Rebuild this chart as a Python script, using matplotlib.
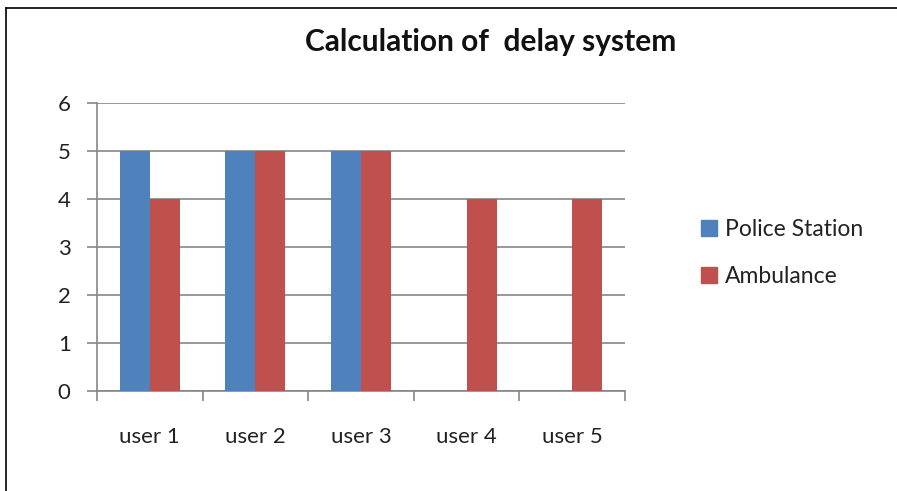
import matplotlib
matplotlib.use("Agg")
import matplotlib.pyplot as plt
from matplotlib.lines import Line2D
from matplotlib.patches import Patch
import numpy as np

categories = ["user 1", "user 2", "user 3", "user 4", "user 5"]
police = [5, 5, 5, 0, 0]
ambulance = [4, 5, 5, 4, 4]
series_names = ["Police Station", "Ambulance"]

BLUE = "#4F81BD"
RED = "#C0504D"
GRID = "#868686"

plt.rcParams["font.family"] = ["Lato", "DejaVu Sans"]

W, H = 897, 491
fig = plt.figure(figsize=(W / 100, H / 100), dpi=100)
ax = fig.add_axes([97 / W, 100 / H, 528 / W, 288 / H])

x = np.arange(len(categories))
bw = 0.284
ax.bar(x - bw / 2, police, bw, color=BLUE, zorder=3)
ax.bar(x + bw / 2, ambulance, bw, color=RED, zorder=3)

ax.set_xlim(-0.5, len(categories) - 0.5)
ax.set_ylim(0, 6)
ax.set_yticks(range(7))
ax.yaxis.grid(True, color=GRID, linewidth=1.2, zorder=0)
ax.set_axisbelow(True)

for s in ["top", "right"]:
    ax.spines[s].set_visible(False)
ax.spines["left"].set_color(GRID)
ax.spines["bottom"].set_color(GRID)
ax.spines["left"].set_linewidth(1.2)
ax.spines["bottom"].set_linewidth(1.2)

# category labels sit between the boundary ticks
ax.set_xticks(np.arange(len(categories) + 1) - 0.5)
ax.set_xticklabels([])
ax.tick_params(axis="x", length=7, color=GRID, width=1.2)
ax.set_xticks(x, minor=True)
ax.set_xticklabels(categories, minor=True, fontsize=16, color="#222222")
ax.tick_params(axis="x", which="minor", length=0, pad=26)
ax.tick_params(axis="y", length=7, color=GRID, width=1.2, labelsize=16,
               labelcolor="#222222", pad=12)

fig.text(0.547, 0.914, "Calculation of  delay system", ha="center", va="center",
         fontsize=21.5, fontweight="bold", color="#111111")

handles = [Patch(color=BLUE), Patch(color=RED)]
fig.legend(handles, series_names, loc="center left", bbox_to_anchor=(680 / W, 238 / H),
           frameon=False, fontsize=16.5, handlelength=0.7, handleheight=0.7,
           handletextpad=0.35, labelspacing=1.15, labelcolor="#222222")

# outer chart border (left and top edges visible)
fig.add_artist(Line2D([5.5 / W, 5.5 / W], [-0.01, 1 - 7.5 / H], color="black", lw=1.2,
                      transform=fig.transFigure))
fig.add_artist(Line2D([5.5 / W, 1.01], [1 - 7.5 / H, 1 - 7.5 / H], color="black", lw=1.2,
                      transform=fig.transFigure))

fig.savefig("out.png", dpi=100)
